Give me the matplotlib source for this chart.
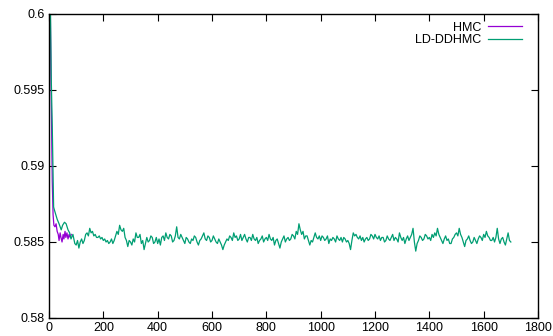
import numpy as np
import matplotlib
matplotlib.use("Agg")
import matplotlib.pyplot as plt

# HMC trace (short run)
hmc_iter = [0, 5, 8, 12, 15, 18, 22, 26, 30, 34, 37, 41, 44, 48, 52, 55, 59, 62, 66, 70, 74, 78, 82]
hmc_val = [0.612, 0.600, 0.595, 0.589, 0.5868, 0.5861, 0.5860, 0.5862, 0.5857, 0.5855, 0.5851,
           0.5856, 0.5853, 0.5850, 0.5855, 0.5852, 0.5857, 0.5853, 0.5856, 0.5852, 0.5855,
           0.5853, 0.5855]

# LD-DDHMC trace: irregular start, then every 5 iterations from 100 to 1700
ld_iter_early = [0, 5, 8, 12, 17, 20, 25, 30, 37, 45, 50, 57, 63, 70, 76, 81, 88, 95]
ld_val_early = [0.612, 0.601, 0.596, 0.5926, 0.5873, 0.5871, 0.5868, 0.5865, 0.5862, 0.5858,
                0.5861, 0.5863, 0.5862, 0.5858, 0.5856, 0.5852, 0.5855, 0.5849]
ld_val_late = [
    # 100 - 195
    0.5848, 0.5851, 0.5846, 0.5850, 0.5852, 0.5849, 0.5851, 0.5855, 0.5856, 0.5854,
    0.5859, 0.5856, 0.5857, 0.5854, 0.5855, 0.5853, 0.5853, 0.5854, 0.5852, 0.5853,
    # 200 - 295
    0.5851, 0.5852, 0.5850, 0.5851, 0.5849, 0.5850, 0.5852, 0.5849, 0.5851, 0.5854,
    0.5857, 0.5855, 0.5861, 0.5858, 0.5857, 0.5859, 0.5853, 0.5851, 0.5847, 0.5851,
    # 300 - 395
    0.5850, 0.5848, 0.5852, 0.5850, 0.5856, 0.5853, 0.5853, 0.5855, 0.5849, 0.5851,
    0.5845, 0.5849, 0.5853, 0.5850, 0.5851, 0.5854, 0.5853, 0.5849, 0.5850, 0.5853,
    # 400 - 495
    0.5849, 0.5852, 0.5848, 0.5853, 0.5854, 0.5851, 0.5856, 0.5853, 0.5852, 0.5855,
    0.5854, 0.5850, 0.5851, 0.5854, 0.5860, 0.5853, 0.5852, 0.5855, 0.5853, 0.5851,
    # 500 - 595
    0.5849, 0.5853, 0.5852, 0.5850, 0.5849, 0.5852, 0.5851, 0.5854, 0.5853, 0.5850,
    0.5848, 0.5851, 0.5852, 0.5854, 0.5856, 0.5852, 0.5851, 0.5854, 0.5853, 0.5850,
    # 600 - 695
    0.5851, 0.5854, 0.5852, 0.5850, 0.5849, 0.5852, 0.5850, 0.5848, 0.5845, 0.5848,
    0.5850, 0.5852, 0.5851, 0.5854, 0.5853, 0.5851, 0.5856, 0.5853, 0.5854, 0.5851,
    # 700 - 795
    0.5852, 0.5855, 0.5851, 0.5853, 0.5855, 0.5852, 0.5850, 0.5853, 0.5853, 0.5851,
    0.5855, 0.5852, 0.5851, 0.5853, 0.5849, 0.5851, 0.5852, 0.5854, 0.5850, 0.5852,
    # 800 - 895
    0.5853, 0.5851, 0.5855, 0.5852, 0.5851, 0.5853, 0.5848, 0.5851, 0.5852, 0.5849,
    0.5846, 0.5850, 0.5852, 0.5854, 0.5850, 0.5852, 0.5853, 0.5851, 0.5852, 0.5855,
    # 900 - 995
    0.5854, 0.5852, 0.5857, 0.5855, 0.5862, 0.5858, 0.5855, 0.5857, 0.5852, 0.5854,
    0.5854, 0.5851, 0.5848, 0.5851, 0.5850, 0.5853, 0.5856, 0.5853, 0.5852, 0.5854,
    # 1000 - 1095
    0.5851, 0.5854, 0.5853, 0.5851, 0.5852, 0.5854, 0.5849, 0.5852, 0.5851, 0.5853,
    0.5852, 0.5850, 0.5854, 0.5852, 0.5851, 0.5853, 0.5850, 0.5853, 0.5852, 0.5850,
    # 1100 - 1195
    0.5851, 0.5849, 0.5845, 0.5851, 0.5856, 0.5854, 0.5855, 0.5853, 0.5852, 0.5854,
    0.5851, 0.5853, 0.5850, 0.5852, 0.5853, 0.5851, 0.5852, 0.5855, 0.5854, 0.5852,
    # 1200 - 1295
    0.5855, 0.5853, 0.5852, 0.5854, 0.5851, 0.5853, 0.5853, 0.5850, 0.5851, 0.5854,
    0.5852, 0.5851, 0.5853, 0.5855, 0.5851, 0.5853, 0.5852, 0.5850, 0.5856, 0.5853,
    # 1300 - 1395
    0.5851, 0.5853, 0.5849, 0.5852, 0.5854, 0.5851, 0.5853, 0.5855, 0.5859, 0.5850,
    0.5844, 0.5849, 0.5851, 0.5854, 0.5853, 0.5851, 0.5852, 0.5855, 0.5854, 0.5852,
    # 1400 - 1495
    0.5853, 0.5851, 0.5855, 0.5853, 0.5856, 0.5854, 0.5859, 0.5855, 0.5853, 0.5851,
    0.5849, 0.5852, 0.5854, 0.5851, 0.5852, 0.5849, 0.5849, 0.5852, 0.5853, 0.5855,
    # 1500 - 1595
    0.5856, 0.5854, 0.5859, 0.5855, 0.5853, 0.5850, 0.5847, 0.5851, 0.5852, 0.5854,
    0.5851, 0.5849, 0.5850, 0.5853, 0.5851, 0.5849, 0.5852, 0.5854, 0.5853, 0.5851,
    # 1600 - 1700
    0.5855, 0.5853, 0.5857, 0.5854, 0.5853, 0.5851, 0.5851, 0.5853, 0.5850, 0.5853,
    0.5859, 0.5852, 0.5849, 0.5852, 0.5853, 0.5850, 0.5848, 0.5852, 0.5856, 0.5851,
    0.5850]
ld_iter = ld_iter_early + list(range(100, 1701, 5))
ld_val = ld_val_early + ld_val_late

x_ticks = [0, 200, 400, 600, 800, 1000, 1200, 1400, 1600, 1800]
y_ticks = [0.58, 0.585, 0.59, 0.595, 0.6]

plt.rcParams['font.family'] = ['Liberation Sans', 'DejaVu Sans']

fig = plt.figure(figsize=(5.53, 3.36), dpi=100)
ax = fig.add_axes([49/553, 1-318/336, (538-49)/553, (318-14)/336])

ax.plot(hmc_iter, hmc_val, color='#9400d3', lw=0.9, label='HMC')
ax.plot(ld_iter, ld_val, color='#009e73', lw=0.9, label='LD-DDHMC')

ax.set_xlim(0, 1800)
ax.set_ylim(0.58, 0.6)
ax.set_xticks(x_ticks)
ax.set_yticks(y_ticks)
ax.set_xticklabels([str(t) for t in x_ticks])
ax.set_yticklabels(['0.58', '0.585', '0.59', '0.595', '0.6'])
ax.tick_params(direction='in', length=5, width=0.8, top=True, right=True,
               labelsize=9, pad=3)
for s in ax.spines.values():
    s.set_linewidth(1.0)

leg = ax.legend(loc='upper right', bbox_to_anchor=(0.988, 1.008), frameon=False,
                markerfirst=False, fontsize=9, handlelength=2.7,
                handletextpad=0.55, labelspacing=0.05, borderpad=0.3)

fig.savefig('out.png', dpi=100)
